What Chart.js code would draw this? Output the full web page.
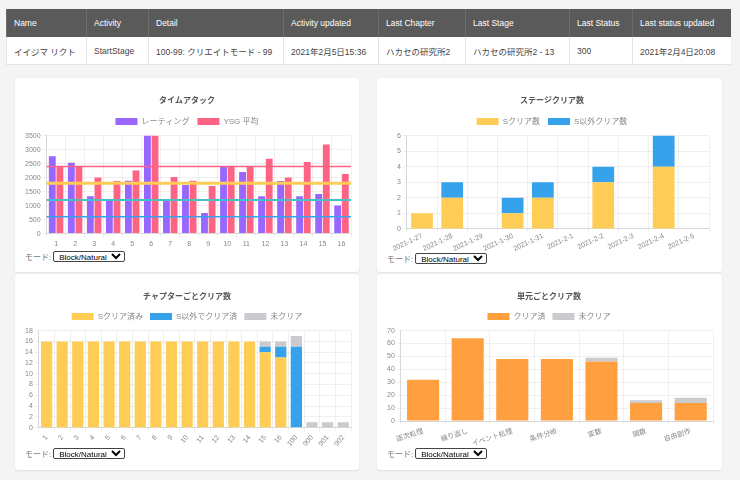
<!DOCTYPE html>
<html>
<head>
<meta charset="utf-8">
<script src="https://cdn.jsdelivr.net/npm/chart.js@4.4.0/dist/chart.umd.min.js"></script>
<style>
  body { margin: 0; background: #f4f4f4; font-family: "Liberation Sans", Arial, "Noto Sans CJK JP", sans-serif; width: 740px; height: 480px; overflow: hidden; position: relative; }
  #status { position: absolute; left: 6px; top: 9px; border-collapse: collapse; table-layout: fixed; width: 724px; background: #fff; }
  #status th { background: #5a5a5a; color: #fff; font-family: "Liberation Sans Narrow", "Liberation Sans", "Noto Sans CJK JP", sans-serif; font-size: 8.5px; font-weight: normal; text-align: left; height: 28px; padding: 0 0 0 7px; border-left: 1px solid #6c6c6c; }
  #status td { color: #444; font-family: "Liberation Sans Narrow", "Liberation Sans", "Noto Sans CJK JP", sans-serif; font-size: 8.5px; height: 27px; padding: 0 0 0 7px; border-left: 1px solid #e4e4e4; border-bottom: 1px solid #e4e4e4; }
  .card { position: absolute; background: #fff; border-radius: 3px; box-shadow: 0 1px 2px rgba(0,0,0,0.08); }
  .card .wrap { position: absolute; left: 6px; top: 6px; width: 334px; height: 166px; }
  .mode { position: absolute; left: 10px; font-size: 8px; color: #777; display: flex; align-items: center; gap: 2px; }
  .mode select { font-size: 8px; height: 11px; padding: 0 1px; border: 1px solid #444; border-radius: 2px; background: #fff; color: #000; }
</style>
</head>
<body>

<table id="status">
  <colgroup>
    <col style="width:80px"><col style="width:62px"><col style="width:135px"><col style="width:95px">
    <col style="width:87px"><col style="width:104px"><col style="width:63px"><col style="width:98px">
  </colgroup>
  <tr><th>Name</th><th>Activity</th><th>Detail</th><th>Activity updated</th><th>Last Chapter</th><th>Last Stage</th><th>Last Status</th><th>Last status updated</th></tr>
  <tr><td>イイジマ リクト</td><td>StartStage</td><td>100-99: クリエイトモード - 99</td><td>2021年2月5日15:36</td><td>ハカセの研究所2</td><td>ハカセの研究所2 - 13</td><td>300</td><td>2021年2月4日20:08</td></tr>
</table>

<div class="card" style="left:15px;top:78px;width:344px;height:194px">
  <div class="wrap"><canvas id="timeAttackChart"></canvas></div>
  <div class="mode" style="top:173px">モード: <select><option>Block/Natural</option></select></div>
</div>
<div class="card" style="left:377px;top:78px;width:345px;height:194px">
  <div class="wrap" style="height:169px"><canvas id="stageClearChart"></canvas></div>
  <div class="mode" style="top:175px">モード: <select><option>Block/Natural</option></select></div>
</div>
<div class="card" style="left:15px;top:274px;width:344px;height:196px">
  <div class="wrap" style="height:170px"><canvas id="chapterClearChart"></canvas></div>
  <div class="mode" style="top:174px">モード: <select><option>Block/Natural</option></select></div>
</div>
<div class="card" style="left:377px;top:274px;width:345px;height:196px">
  <div class="wrap" style="height:170px"><canvas id="unitClearChart"></canvas></div>
  <div class="mode" style="top:174px">モード: <select><option>Block/Natural</option></select></div>
</div>

<script>
// time attack
const taLabels = ['1','2','3','4','5','6','7','8','9','10','11','12','13','14','15','16'];
const ratingValues = [2760, 2530, 1330, 1200, 1890, 3500, 1200, 1740, 740, 2380, 2200, 1330, 1880, 1330, 1410, 1000];
const ysgValues = [2400, 2400, 2000, 1880, 2250, 3500, 2020, 1890, 1700, 2400, 2400, 2670, 2000, 2560, 3180, 2130];
const rankLines = [2400, 1800, 1200, 600];

// stage clears per day
const stageDates = ['2021-1-27','2021-1-28','2021-1-29','2021-1-30','2021-1-31','2021-2-1','2021-2-2','2021-2-3','2021-2-4','2021-2-5'];
const sClearCounts = [1, 2, 0, 1, 2, 0, 3, 0, 4, 0];
const otherClearCounts = [0, 1, 0, 1, 1, 0, 1, 0, 2, 0];

// clears per chapter
const chapterLabels = ['1','2','3','4','5','6','7','8','9','10','11','12','13','14','15','16','100','900','901','902'];
const chapterS = [16,16,16,16,16,16,16,16,16,16,16,16,16,16,14,13,0,0,0,0];
const chapterOther = [0,0,0,0,0,0,0,0,0,0,0,0,0,0,1,2,15,0,0,0];
const chapterNot = [0,0,0,0,0,0,0,0,0,0,0,0,0,0,1,1,2,1,1,1];

// clears per unit
const unitLabels = ['逐次処理','繰り返し','イベント処理','条件分岐','変数','関数','自由創作'];
const unitCleared = [32, 64, 48, 48, 46, 14, 14];
const unitNot = [0, 0, 0, 0, 3, 2, 4];

const rankColors = ['#ff6384', '#ffcd56', '#4bc0c0', '#36a2eb'];
const rankWidths = [1.5, 3, 2, 1.5];

Chart.defaults.font.family = "'Liberation Sans', Arial, 'Noto Sans CJK JP', sans-serif";
Chart.defaults.font.size = 7;
Chart.defaults.color = '#888';
Chart.defaults.animation = false;
Chart.defaults.maintainAspectRatio = false;

//draws the horizontal rank lines over the bars
const rankLinePlugin = {
  id: 'rankLines',
  afterDatasetsDraw(chart) {
    const { ctx, chartArea, scales } = chart;
    rankLines.forEach((v, i) => {
      const y = scales.y.getPixelForValue(v);
      ctx.save();
      ctx.strokeStyle = rankColors[i];
      ctx.lineWidth = rankWidths[i];
      ctx.beginPath();
      ctx.moveTo(chartArea.left, y);
      ctx.lineTo(chartArea.right, y);
      ctx.stroke();
      ctx.restore();
    });
  }
};

function baseOptions(title, stacked, yMax, yStep) {
  return {
    responsive: true,
    layout: { padding: { left: 2, right: 4, top: 0, bottom: 0 } },
    plugins: {
      title: { display: true, text: title, color: '#555', font: { size: 8, weight: 'bold' }, padding: { top: 12, bottom: 4 } },
      legend: { labels: { boxWidth: 22, boxHeight: 7, font: { size: 8 }, padding: 8, color: '#888' } },
      tooltip: { enabled: false }
    },
    scales: {
      x: { stacked: stacked, grid: { color: 'rgba(0,0,0,0.06)', tickLength: 4 }, ticks: { padding: 2, font: { size: 7 } } },
      y: {
        stacked: stacked, beginAtZero: true, max: yMax,
        grid: { color: 'rgba(0,0,0,0.06)', tickLength: 4 },
        ticks: { stepSize: yStep, autoSkip: false, padding: 2, font: { size: 7 }, callback: v => String(v) }
      }
    }
  };
}

function plotTimeAttack() {
  const ctx = document.getElementById('timeAttackChart').getContext('2d');
  new Chart(ctx, {
    type: 'bar',
    data: {
      labels: taLabels,
      datasets: [
        { label: 'レーティング', data: ratingValues, backgroundColor: '#9966ff' },
        { label: 'YSG 平均', data: ysgValues, backgroundColor: '#ff6384' }
      ]
    },
    options: baseOptions('タイムアタック', false, 3500, 500),
    plugins: [rankLinePlugin]
  });
}

function plotStageClear() {
  const ctx = document.getElementById('stageClearChart').getContext('2d');
  const opts = baseOptions('ステージクリア数', true, 6, 1);
  opts.layout.padding.left = 12;
  opts.layout.padding.right = 8;
  opts.scales.x.grid.tickLength = 3;
  opts.scales.x.ticks.padding = 0;
  opts.scales.x.ticks.minRotation = 25;
  opts.scales.x.ticks.maxRotation = 25;
  new Chart(ctx, {
    type: 'bar',
    data: {
      labels: stageDates,
      datasets: [
        { label: 'Sクリア数', data: sClearCounts, backgroundColor: '#ffcd56' },
        { label: 'S以外クリア数', data: otherClearCounts, backgroundColor: '#36a2eb' }
      ]
    },
    options: opts
  });
}

function plotChapterClear() {
  const ctx = document.getElementById('chapterClearChart').getContext('2d');
  const opts = baseOptions('チャプターごとクリア数', true, 18, 2);
  opts.plugins.legend.labels.padding = 7;
  opts.scales.x.ticks.minRotation = 50;
  opts.scales.x.ticks.maxRotation = 50;
  new Chart(ctx, {
    type: 'bar',
    data: {
      labels: chapterLabels,
      datasets: [
        { label: 'Sクリア済み', data: chapterS, backgroundColor: '#ffcd56' },
        { label: 'S以外でクリア済', data: chapterOther, backgroundColor: '#36a2eb' },
        { label: '未クリア', data: chapterNot, backgroundColor: '#c9cbcf' }
      ]
    },
    options: opts
  });
}

function plotUnitClear() {
  const ctx = document.getElementById('unitClearChart').getContext('2d');
  const opts = baseOptions('単元ごとクリア数', true, 70, 10);
  opts.plugins.legend.labels.padding = 7;
  opts.scales.x.ticks.minRotation = 18;
  opts.scales.x.ticks.maxRotation = 18;
  new Chart(ctx, {
    type: 'bar',
    data: {
      labels: unitLabels,
      datasets: [
        { label: 'クリア済', data: unitCleared, backgroundColor: '#ff9f40' },
        { label: '未クリア', data: unitNot, backgroundColor: '#c9cbcf' }
      ]
    },
    options: opts
  });
}

//call the functions at once
plotTimeAttack();
plotStageClear();
plotChapterClear();
plotUnitClear();
</script>
</body>
</html>
